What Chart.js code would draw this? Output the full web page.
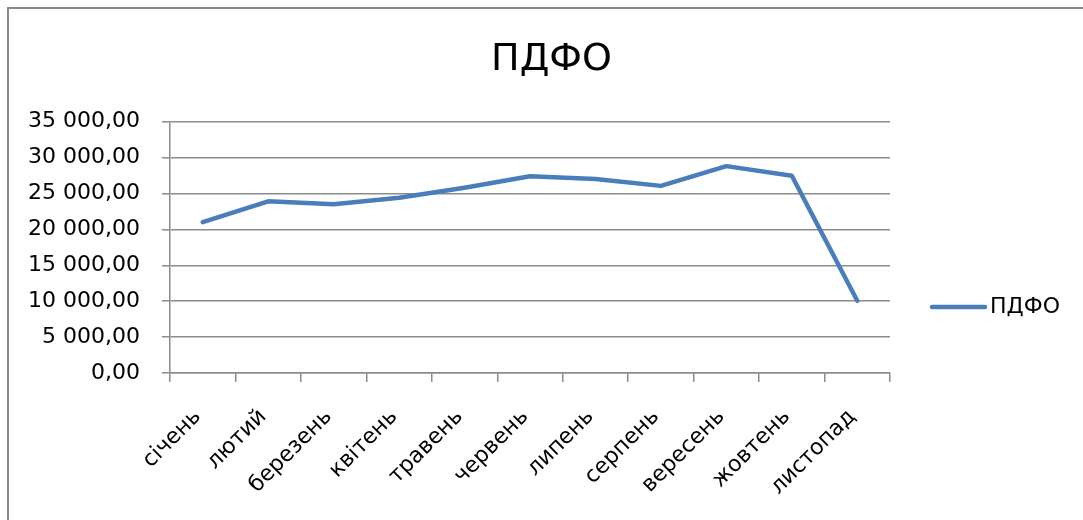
<!DOCTYPE html>
<html>
<head>
<meta charset="utf-8">
<script src="https://cdn.jsdelivr.net/npm/chart.js@4"></script>
<style>
  body { margin: 0; background: #fff; }
  #frame { position: absolute; left: 7px; top: 7px; width: 1100px; height: 540px;
           border-left: 2px solid #8a8a8a; border-top: 2px solid #8a8a8a; }
  #wrap { position: absolute; left: 0; top: 0; width: 1083px; height: 520px; }
</style>
</head>
<body>
<div id="frame"></div>
<div id="wrap"><canvas id="myChart" width="1083" height="520"></canvas></div>
<script>
  // Data
  var months = ['січень', 'лютий', 'березень', 'квітень', 'травень', 'червень',
                'липень', 'серпень', 'вересень', 'жовтень', 'листопад'];
  var pdfo = [21000, 23900, 23500, 24400, 25800, 27400, 27000, 26050, 28800, 27450, 10050];
  var seriesName = 'ПДФО';
  var yMin = 0, yMax = 35000, yStep = 5000;

  var lineColor = '#4a7ebb';
  var gridColor = '#8c8c8c';
  var fontFamily = '"DejaVu Sans", sans-serif';

  function fmt(v) {
    var s = Number(v).toFixed(2).split('.');
    return s[0].replace(/\B(?=(\d{3})+(?!\d))/g, ' ') + ',' + s[1];
  }

  // legend on the right, drawn like the Excel one
  var sideLegend = {
    id: 'sideLegend',
    afterDraw: function (chart) {
      var c = chart.ctx;
      var ds = chart.data.datasets[0];
      c.save();
      c.strokeStyle = ds.borderColor;
      c.lineWidth = 4.5;
      c.lineCap = 'round';
      c.beginPath();
      c.moveTo(932, 307);
      c.lineTo(985, 307);
      c.stroke();
      c.fillStyle = '#000';
      c.font = '22px ' + fontFamily;
      c.textAlign = 'left';
      c.textBaseline = 'middle';
      c.fillText(ds.label, 990, 307);
      c.restore();
    }
  };

  var ctx = document.getElementById('myChart').getContext('2d');
  var chart = new Chart(ctx, {
    type: 'line',
    data: {
      labels: months,
      datasets: [{
        label: seriesName,
        data: pdfo,
        borderColor: lineColor,
        borderWidth: 4.5,
        borderJoinStyle: 'round',
        borderCapStyle: 'round',
        pointRadius: 0,
        tension: 0,
        fill: false
      }]
    },
    options: {
      responsive: false,
      animation: false,
      layout: { padding: { left: 20, right: 0, top: 0, bottom: 0 } },
      plugins: {
        legend: { display: false },
        tooltip: { enabled: false },
        title: {
          display: true,
          text: seriesName,
          color: '#000',
          font: { family: fontFamily, size: 38, weight: 'normal', lineHeight: 1.2 },
          padding: { top: 37, bottom: 39 }
        }
      },
      scales: {
        x: {
          offset: true,
          grid: { offset: true, drawOnChartArea: false, drawTicks: true, tickLength: 9,
                  color: gridColor, lineWidth: 1.5 },
          border: { color: gridColor, width: 1.5 },
          ticks: { color: '#000', font: { family: fontFamily, size: 22 },
                   minRotation: 45, maxRotation: 45, autoSkip: false,
                   padding: 22, labelOffset: -5 },
          afterFit: function (s) { s.height = 147; }
        },
        y: {
          min: yMin,
          max: yMax,
          grid: { color: gridColor, lineWidth: 1.5, tickLength: 8 },
          border: { color: gridColor, width: 1.5 },
          ticks: { stepSize: yStep, color: '#000', padding: 22,
                   font: { family: fontFamily, size: 22 },
                   callback: function (v) { return fmt(v); } },
          afterFit: function (s) { s.width = 150; }
        },
        // empty right-hand space reserved for the legend
        yRight: {
          position: 'right',
          min: yMin,
          max: yMax,
          grid: { display: false },
          border: { display: false },
          ticks: { display: false },
          afterFit: function (s) { s.width = 193; }
        }
      }
    },
    plugins: [sideLegend]
  });
</script>
</body>
</html>
